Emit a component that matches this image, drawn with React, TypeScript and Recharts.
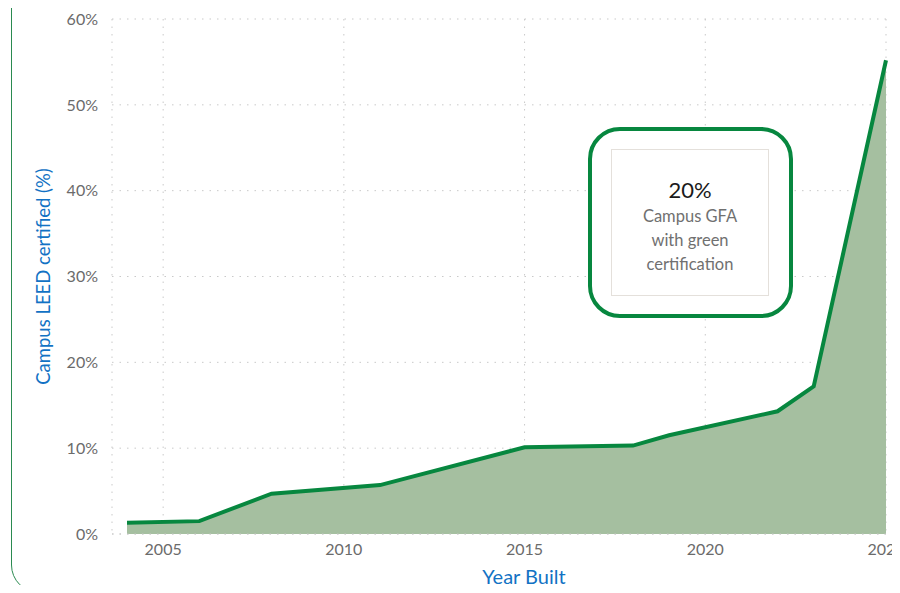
import React from 'react';
import { AreaChart, Area, XAxis, YAxis, CartesianGrid } from 'recharts';

// values (kinks in the line)
const years = [2004, 2006, 2008, 2011, 2015, 2018, 2019, 2022, 2023, 2025];
const certifiedPct = [1.3, 1.5, 4.7, 5.7, 10.1, 10.3, 11.5, 14.3, 17.2, 55.2];

const xTicks = [2005, 2010, 2015, 2020, 2025];
const yTicks = [0, 10, 20, 30, 40, 50, 60];

const calloutValue = '20%';
const calloutLines = ['Campus GFA', 'with green', 'certification'];

const data = years.map((y, i) => ({ year: y, pct: certifiedPct[i] }));

const FONT = 'Lato, "Open Sans", sans-serif';
const GREEN = '#07873f';
const TICK = '#6b6b6b';
const BLUE = '#1272c4';

export default function App() {
  return (
    <div style={{ position: 'relative', width: 900, height: 593, margin: -8, overflow: 'hidden', background: '#fff', fontFamily: FONT }}>
      {/* rounded card outline, mostly off-screen */}
      <div
        style={{
          position: 'absolute',
          left: 11,
          top: -40,
          width: 1000,
          height: 633,
          border: '1.5px solid #2a8a50',
          borderRadius: 28,
          boxSizing: 'border-box',
        }}
      />
      <div style={{ position: 'absolute', left: 0, top: 0 }}>
        <AreaChart width={936} height={593} data={data} margin={{ top: 19, right: 0, bottom: 0, left: 0 }}>
          <CartesianGrid stroke="#c9c9c9" strokeDasharray="1.5 6" />
          <XAxis
            dataKey="year"
            type="number"
            domain={[2004, 2025]}
            ticks={xTicks}
            padding={{ left: 15, right: 50 }}
            height={59}
            tickLine={false}
            axisLine={{ stroke: '#c9c9c9', strokeDasharray: '1.5 6' }}
            tickMargin={4}
            tick={{ fill: TICK, fontSize: 16, fontFamily: FONT }}
            label={{ value: 'Year Built', position: 'insideBottom', offset: 9, fill: BLUE, fontSize: 20, fontFamily: FONT }}
          />
          <YAxis
            type="number"
            domain={[0, 60]}
            ticks={yTicks}
            width={112}
            tickLine={false}
            axisLine={false}
            tickMargin={8}
            tickFormatter={(v: number) => `${v}%`}
            tick={{ fill: TICK, fontSize: 16, fontFamily: FONT }}
            label={{ value: 'Campus LEED certified (%)', angle: -90, position: 'center', dx: -13, fill: BLUE, fontSize: 18.5, fontFamily: FONT }}
          />
          <Area
            type="linear"
            dataKey="pct"
            stroke={GREEN}
            strokeWidth={4}
            fill="#a5bfa0"
            fillOpacity={1}
            dot={false}
            activeDot={false}
            isAnimationActive={false}
          />
        </AreaChart>
      </div>
      {/* callout */}
      <div
        style={{
          position: 'absolute',
          left: 588,
          top: 127,
          width: 205,
          height: 191,
          border: `4px solid ${GREEN}`,
          borderRadius: 32,
          boxSizing: 'border-box',
          background: '#fff',
        }}
      />
      <div
        style={{
          position: 'absolute',
          left: 611,
          top: 149,
          width: 158,
          height: 147,
          border: '1px solid #e4e0db',
          boxSizing: 'border-box',
          display: 'flex',
          flexDirection: 'column',
          alignItems: 'center',
          justifyContent: 'center',
          textAlign: 'center',
          paddingTop: 6,
        }}
      >
        <div style={{ fontSize: 22, color: '#1a1a1a', lineHeight: '28px' }}>{calloutValue}</div>
        {calloutLines.map((t) => (
          <div key={t} style={{ fontSize: 16.5, color: '#707070', lineHeight: '24px' }}>
            {t}
          </div>
        ))}
      </div>
    </div>
  );
}
